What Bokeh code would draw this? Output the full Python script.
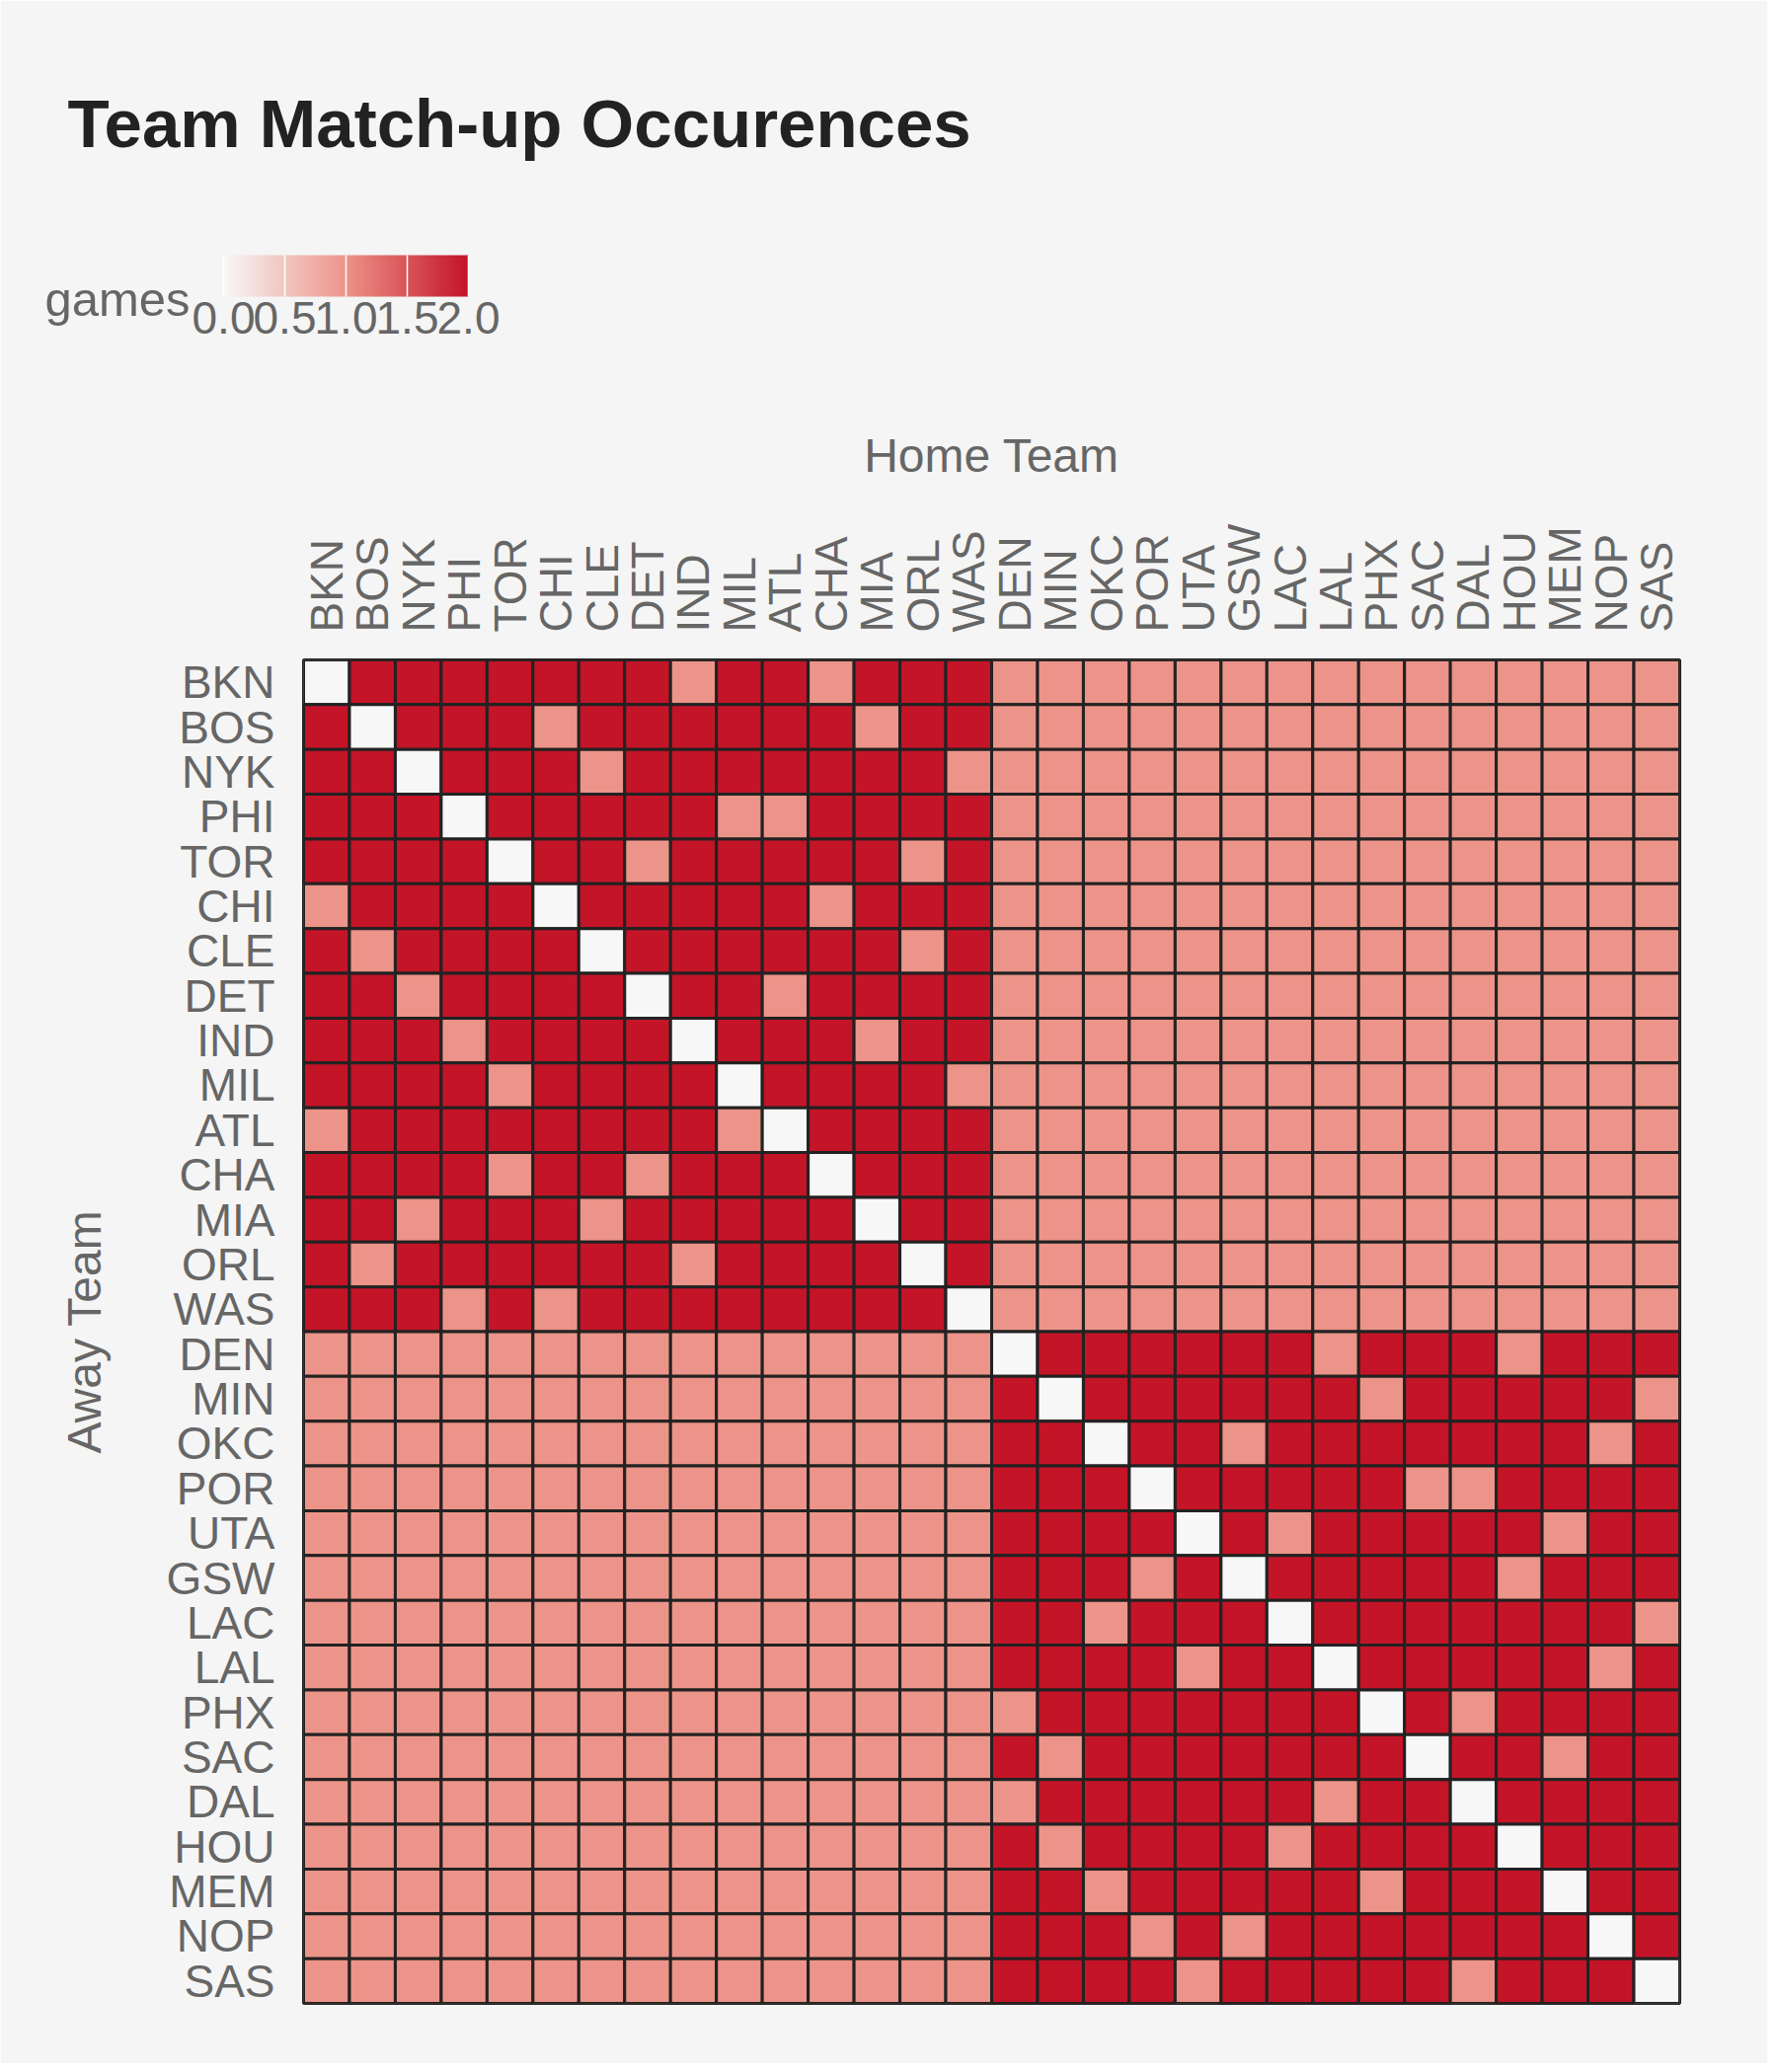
from bokeh.plotting import figure
from bokeh.models import (ColumnDataSource, LinearColorMapper, ColorBar, FixedTicker,
                          PrintfTickFormatter, AllLabels, Title, FactorRange)
from bokeh.embed import file_html
from bokeh.resources import INLINE

# teams in the order used on both axes (east first, then west)
teams = ["BKN", "BOS", "NYK", "PHI", "TOR", "CHI", "CLE", "DET", "IND", "MIL",
         "ATL", "CHA", "MIA", "ORL", "WAS",
         "DEN", "MIN", "OKC", "POR", "UTA", "GSW", "LAC", "LAL", "PHX", "SAC",
         "DAL", "HOU", "MEM", "NOP", "SAS"]

# games[away][home]
games = [
    [0,2,2,2,2,2,2,2,1,2,2,1,2,2,2, 1,1,1,1,1,1,1,1,1,1,1,1,1,1,1],
    [2,0,2,2,2,1,2,2,2,2,2,2,1,2,2, 1,1,1,1,1,1,1,1,1,1,1,1,1,1,1],
    [2,2,0,2,2,2,1,2,2,2,2,2,2,2,1, 1,1,1,1,1,1,1,1,1,1,1,1,1,1,1],
    [2,2,2,0,2,2,2,2,2,1,1,2,2,2,2, 1,1,1,1,1,1,1,1,1,1,1,1,1,1,1],
    [2,2,2,2,0,2,2,1,2,2,2,2,2,1,2, 1,1,1,1,1,1,1,1,1,1,1,1,1,1,1],
    [1,2,2,2,2,0,2,2,2,2,2,1,2,2,2, 1,1,1,1,1,1,1,1,1,1,1,1,1,1,1],
    [2,1,2,2,2,2,0,2,2,2,2,2,2,1,2, 1,1,1,1,1,1,1,1,1,1,1,1,1,1,1],
    [2,2,1,2,2,2,2,0,2,2,1,2,2,2,2, 1,1,1,1,1,1,1,1,1,1,1,1,1,1,1],
    [2,2,2,1,2,2,2,2,0,2,2,2,1,2,2, 1,1,1,1,1,1,1,1,1,1,1,1,1,1,1],
    [2,2,2,2,1,2,2,2,2,0,2,2,2,2,1, 1,1,1,1,1,1,1,1,1,1,1,1,1,1,1],
    [1,2,2,2,2,2,2,2,2,1,0,2,2,2,2, 1,1,1,1,1,1,1,1,1,1,1,1,1,1,1],
    [2,2,2,2,1,2,2,1,2,2,2,0,2,2,2, 1,1,1,1,1,1,1,1,1,1,1,1,1,1,1],
    [2,2,1,2,2,2,1,2,2,2,2,2,0,2,2, 1,1,1,1,1,1,1,1,1,1,1,1,1,1,1],
    [2,1,2,2,2,2,2,2,1,2,2,2,2,0,2, 1,1,1,1,1,1,1,1,1,1,1,1,1,1,1],
    [2,2,2,1,2,1,2,2,2,2,2,2,2,2,0, 1,1,1,1,1,1,1,1,1,1,1,1,1,1,1],
    [1,1,1,1,1,1,1,1,1,1,1,1,1,1,1, 0,2,2,2,2,2,2,1,2,2,2,1,2,2,2],
    [1,1,1,1,1,1,1,1,1,1,1,1,1,1,1, 2,0,2,2,2,2,2,2,1,2,2,2,2,2,1],
    [1,1,1,1,1,1,1,1,1,1,1,1,1,1,1, 2,2,0,2,2,1,2,2,2,2,2,2,2,1,2],
    [1,1,1,1,1,1,1,1,1,1,1,1,1,1,1, 2,2,2,0,2,2,2,2,2,1,1,2,2,2,2],
    [1,1,1,1,1,1,1,1,1,1,1,1,1,1,1, 2,2,2,2,0,2,1,2,2,2,2,2,1,2,2],
    [1,1,1,1,1,1,1,1,1,1,1,1,1,1,1, 2,2,2,1,2,0,2,2,2,2,2,1,2,2,2],
    [1,1,1,1,1,1,1,1,1,1,1,1,1,1,1, 2,2,1,2,2,2,0,2,2,2,2,2,2,2,1],
    [1,1,1,1,1,1,1,1,1,1,1,1,1,1,1, 2,2,2,2,1,2,2,0,2,2,2,2,2,1,2],
    [1,1,1,1,1,1,1,1,1,1,1,1,1,1,1, 1,2,2,2,2,2,2,2,0,2,1,2,2,2,2],
    [1,1,1,1,1,1,1,1,1,1,1,1,1,1,1, 2,1,2,2,2,2,2,2,2,0,2,2,1,2,2],
    [1,1,1,1,1,1,1,1,1,1,1,1,1,1,1, 1,2,2,2,2,2,2,1,2,2,0,2,2,2,2],
    [1,1,1,1,1,1,1,1,1,1,1,1,1,1,1, 2,1,2,2,2,2,1,2,2,2,2,0,2,2,2],
    [1,1,1,1,1,1,1,1,1,1,1,1,1,1,1, 2,2,1,2,2,2,2,2,1,2,2,2,0,2,2],
    [1,1,1,1,1,1,1,1,1,1,1,1,1,1,1, 2,2,2,1,2,1,2,2,2,2,2,2,2,0,2],
    [1,1,1,1,1,1,1,1,1,1,1,1,1,1,1, 2,2,2,2,1,2,2,2,2,2,1,2,2,2,0],
]

colorbar_ticks = [0, 0.5, 1, 1.5, 2]

FONT = "Liberation Sans"
GREY = "#666666"
BG = "#F5F5F5"

# canvas layout (px)
W, H = 1790, 2090
FL, FT, FR, FB = 307, 668, 1701, 2029   # frame edges

# long table for the rects
away, home, n = [], [], []
for i, a in enumerate(teams):
    for j, h in enumerate(teams):
        away.append(a)
        home.append(h)
        n.append(games[i][j])
src = ColumnDataSource(dict(away=away, home=home, games=n))

# white -> salmon -> red, salmon sits exactly at 1 game
def hex2rgb(c):
    return [int(c[k:k + 2], 16) for k in (1, 3, 5)]

stops = [hex2rgb("#F7F7F7"), hex2rgb("#EC9489"), hex2rgb("#C41428")]
palette = []
N = 257
for k in range(N):
    t = k / (N - 1) * 2
    seg = min(int(t), 1)
    f = t - seg
    c0, c1 = stops[seg], stops[seg + 1]
    palette.append("#%02x%02x%02x" % tuple(round(c0[m] + (c1[m] - c0[m]) * f) for m in range(3)))

mapper = LinearColorMapper(palette=palette, low=0, high=2)

p = figure(width=W, height=H, x_range=FactorRange(*teams),
           y_range=FactorRange(*reversed(teams)), x_axis_location="above",
           toolbar_location=None, output_backend="svg", title=None,
           min_border_left=FL, min_border_top=FT, min_border_right=W - FR, min_border_bottom=H - FB)
p.background_fill_color = BG
p.border_fill_color = BG
p.outline_line_color = "#222222"
p.outline_line_width = 3
p.grid.grid_line_color = None

p.rect(x="home", y="away", width=1, height=1, source=src,
       fill_color={"field": "games", "transform": mapper},
       line_color="#222222", line_width=3)

for ax in (p.xaxis[0], p.yaxis[0]):
    ax.axis_line_color = None
    ax.major_tick_line_color = None
    ax.minor_tick_line_color = None
    ax.major_label_text_font = FONT
    ax.major_label_text_font_size = "46px"
    ax.major_label_text_color = GREY
    ax.major_label_standoff = 22
    ax.axis_label_text_font = FONT
    ax.axis_label_text_font_size = "48px"
    ax.axis_label_text_font_style = "normal"
    ax.axis_label_text_color = GREY

p.xaxis.axis_label = "Home Team"
p.xaxis.major_label_orientation = "vertical"
p.xaxis.axis_label_standoff = 40
p.yaxis.axis_label = "Away Team"
p.yaxis.major_label_standoff = 23
p.yaxis.axis_label_standoff = 54

# legend name and main title stacked above the x axis
p.add_layout(Title(text="games", align="left", offset=45 - FL, standoff=204,
                   text_font=FONT, text_font_size="49px", text_font_style="normal",
                   text_color=GREY), "above")
p.add_layout(Title(text="Team Match-up Occurences", align="left", offset=68 - FL, standoff=15,
                   text_font=FONT, text_font_size="69px", text_font_style="bold",
                   text_color="#222222"), "above")

cb = ColorBar(color_mapper=mapper, orientation="horizontal", location=(226 - FL, FB - 340),
              width=248, height=42, padding=0,
              ticker=FixedTicker(ticks=colorbar_ticks),
              formatter=PrintfTickFormatter(format="%.1f"),
              major_label_policy=AllLabels(),
              major_label_text_font=FONT, major_label_text_font_size="46px",
              major_label_text_color=GREY, label_standoff=5,
              major_tick_in=42, major_tick_out=0,
              major_tick_line_color="white", major_tick_line_width=1.5,
              bar_line_color=None, border_line_color=None,
              background_fill_color=None)
p.add_layout(cb, "center")

open("out.html", "w").write(file_html(p, INLINE))
